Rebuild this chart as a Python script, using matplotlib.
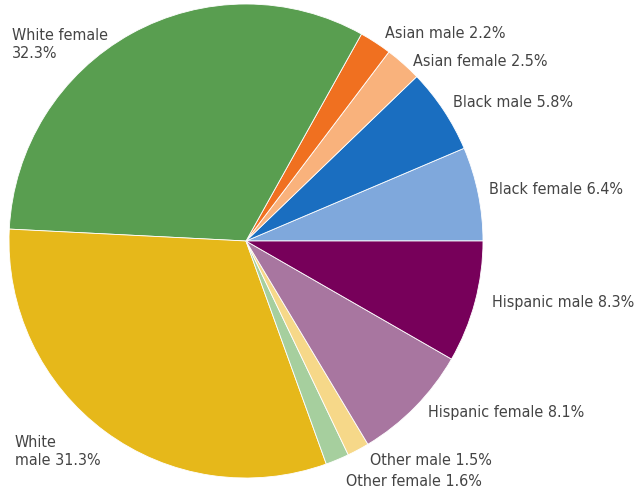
import matplotlib
matplotlib.use("Agg")
import matplotlib.pyplot as plt

# slices, counter-clockwise from 3 o'clock
groups = ["Black female", "Black male", "Asian female", "Asian male",
          "White female", "White male", "Other female", "Other male",
          "Hispanic female", "Hispanic male"]
shares = [6.4, 5.8, 2.5, 2.2, 32.3, 31.3, 1.6, 1.5, 8.1, 8.3]
colors = ["#7fa8dc", "#1a6ec0", "#f9b27c", "#f07020", "#599e50",
          "#e6b81a", "#a6cf9e", "#f6d889", "#a876a0", "#77005a"]

label_text = ["Black female 6.4%", "Black male 5.8%", "Asian female 2.5%",
              "Asian male 2.2%", "White female\n32.3%", "White\nmale 31.3%",
              "Other female 1.6%", "Other male 1.5%", "Hispanic female 8.1%",
              "Hispanic male 8.3%"]
# label anchor (left edge, vertical centre) in image pixels
label_px = [(489, 189), (453, 102), (413, 61), (385, 34), (12, 45),
            (15, 451), (346, 481), (370, 460), (428, 412), (492, 302)]

W, H = 641, 490
fig = plt.figure(figsize=(W / 100, H / 100), dpi=100)
fig.patch.set_facecolor("white")

cx, cy, r = 246, 241, 237
ax = fig.add_axes([(cx - r) / W, (H - cy - r) / H, 2 * r / W, 2 * r / H])
ax.pie(shares, colors=colors, startangle=0, counterclock=True, radius=1,
       wedgeprops=dict(edgecolor="white", linewidth=0.6))
ax.set_xlim(-1, 1)
ax.set_ylim(-1, 1)
ax.set_aspect("equal")
ax.axis("off")

for txt, (px, py) in zip(label_text, label_px):
    fig.text(px / W, 1 - py / H, txt, ha="left", va="center",
             fontsize=11.5, color="#444444", linespacing=1.25,
             family="DejaVu Sans", fontstretch="condensed")

fig.savefig("out.png", dpi=100)
